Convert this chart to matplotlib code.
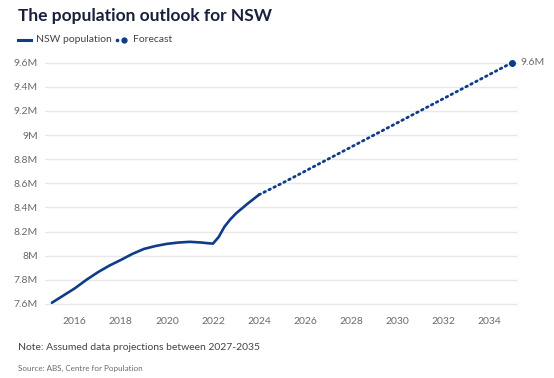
import matplotlib

matplotlib.use("Agg")
import matplotlib.pyplot as plt
from matplotlib.lines import Line2D

# NSW population (millions)
years = [2015.0, 2015.5, 2016.0, 2016.5, 2017.0, 2017.5, 2018.0, 2018.5, 2019.0,
         2019.5, 2020.0, 2020.5, 2021.0, 2021.5, 2021.75, 2022.0, 2022.25, 2022.5,
         2022.75, 2023.0, 2023.25, 2023.5, 2024.0]
population = [7.61, 7.67, 7.73, 7.80, 7.863, 7.918, 7.965, 8.015, 8.056,
              8.08, 8.098, 8.109, 8.115, 8.109, 8.104, 8.10, 8.155, 8.24,
              8.30, 8.35, 8.39, 8.43, 8.505]

# Forecast (millions)
forecast_years = [2024, 2025, 2026, 2027, 2028, 2029, 2030, 2031, 2032, 2033, 2034, 2035]
forecast = [8.505, 8.6, 8.7, 8.8, 8.9, 9.0, 9.1, 9.2, 9.3, 9.4, 9.5, 9.6]

y_ticks = [7.6, 7.8, 8.0, 8.2, 8.4, 8.6, 8.8, 9.0, 9.2, 9.4, 9.6]
y_labels = ["7.6M", "7.8M", "8M", "8.2M", "8.4M", "8.6M", "8.8M", "9M", "9.2M", "9.4M", "9.6M"]
x_ticks = [2016, 2018, 2020, 2022, 2024, 2026, 2028, 2030, 2032, 2034]

NAVY = "#0f3c88"
TEXT = "#1b1f3b"
GREY = "#6b6b6b"

plt.rcParams["font.family"] = ["Lato", "DejaVu Sans"]

W, H = 554, 378
fig = plt.figure(figsize=(W / 100, H / 100), dpi=100)
fig.patch.set_facecolor("white")

# axes placed in pixel terms
left, right, top, bottom = 45, 518, 60, 306
ax = fig.add_axes([left / W, 1 - bottom / H, (right - left) / W, (bottom - top) / H])

ax.plot(years, population, color=NAVY, lw=1.9, solid_capstyle="round",
        solid_joinstyle="round", zorder=3)
ax.plot(forecast_years, forecast, color=NAVY, lw=2.0, linestyle=(0, (0.6, 1.4)),
        dash_capstyle="round", zorder=3)
ax.plot(forecast_years[-1], forecast[-1], "o", color=NAVY, ms=4, zorder=4)
ax.annotate("9.6M", (forecast_years[-1], forecast[-1]), xytext=(6, 0),
            textcoords="offset points", va="center", ha="left",
            fontsize=7.5, color=GREY, annotation_clip=False)

ax.set_xlim(2014.7, 2035.26)
ax.set_ylim(7.583, 9.622)
ax.set_yticks(y_ticks)
ax.set_yticklabels(y_labels)
ax.set_xticks(x_ticks)
ax.grid(axis="y", color="#e8e8e8", lw=1)
ax.set_axisbelow(True)
for s in ax.spines.values():
    s.set_visible(False)
ax.tick_params(length=0, labelsize=7.5, labelcolor=GREY)
ax.tick_params(axis="x", pad=8)
ax.tick_params(axis="y", pad=5)

# title and legend
fig.text(18 / W, 1 - 16 / H, "The population outlook for NSW", fontsize=12.5,
         fontweight="bold", color=TEXT, va="center", ha="left")
ly = 1 - 40 / H
fig.add_artist(Line2D([18 / W, 31 / W], [ly, ly], color=NAVY, lw=2.2,
                      transform=fig.transFigure))
fig.text(36 / W, ly, "NSW population", fontsize=7.5, color="#444444", va="center")
fig.add_artist(Line2D([117 / W], [ly], marker="o", ms=1.6, color=NAVY,
                      transform=fig.transFigure))
fig.add_artist(Line2D([124 / W], [ly], marker="o", ms=3.5, color=NAVY,
                      transform=fig.transFigure))
fig.text(133 / W, ly, "Forecast", fontsize=7.5, color="#444444", va="center")

# footnotes
fig.text(18 / W, 1 - 347 / H, "Note: Assumed data projections between 2027-2035",
         fontsize=7.5, color="#444444", va="center")
fig.text(18 / W, 1 - 368 / H, "Source: ABS, Centre for Population",
         fontsize=5.8, color=GREY, va="center")

fig.savefig("out.png", dpi=100, facecolor="white")
